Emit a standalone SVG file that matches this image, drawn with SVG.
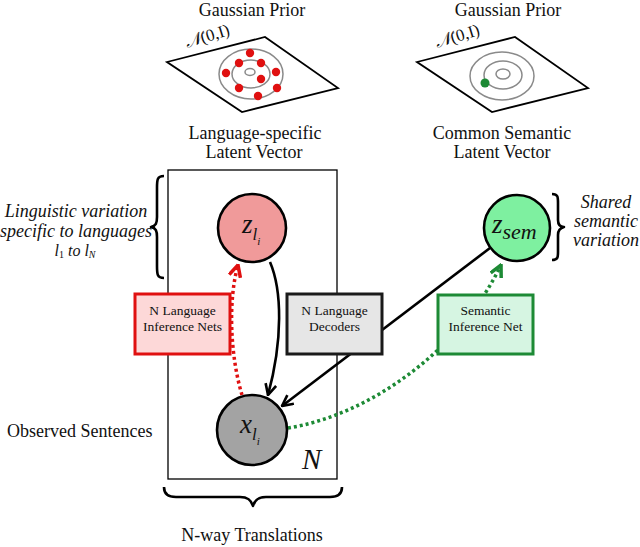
<svg xmlns="http://www.w3.org/2000/svg" width="640" height="547" viewBox="0 0 640 547" font-family="'Liberation Serif','Times New Roman',serif">
<defs>
<style>
text{font-family:"Liberation Serif","Times New Roman",serif;fill:#111;}
.t18{font-size:18px;text-anchor:middle;}
.it{font-style:italic;}
.box{font-size:13.5px;text-anchor:middle;}
.plane{fill:#fff;stroke:#000;stroke-width:1.8;}
.ell{fill:none;stroke:#8a8a8a;stroke-width:1.5;}
.brace{fill:none;stroke:#000;stroke-width:2.6;stroke-linejoin:round;}
.solid{fill:none;stroke:#000;stroke-width:2.6;}
.dotr{fill:none;stroke:#e01010;stroke-width:3.5;stroke-dasharray:3 3;}
.dotg{fill:none;stroke:#1d8a35;stroke-width:3.5;stroke-dasharray:3 3;}
.node{stroke:#000;stroke-width:2.6;}
</style>
<marker id="ak" viewBox="0 0 12 12" refX="11" refY="6" markerWidth="13" markerHeight="13" markerUnits="userSpaceOnUse" orient="auto">
<path d="M1,1 L11,6 L1,11" fill="none" stroke="#000" stroke-width="2.4"/>
</marker>
<marker id="ar" viewBox="0 0 12 12" refX="11" refY="6" markerWidth="14" markerHeight="14" markerUnits="userSpaceOnUse" orient="auto">
<path d="M1,1 L11,6 L1,11" fill="none" stroke="#e01010" stroke-width="3"/>
</marker>
<marker id="ag" viewBox="0 0 12 12" refX="11" refY="6" markerWidth="14" markerHeight="14" markerUnits="userSpaceOnUse" orient="auto">
<path d="M1,1 L11,6 L1,11" fill="none" stroke="#1d8a35" stroke-width="3"/>
</marker>
</defs>
<rect width="640" height="547" fill="#fff"/>

<g id="prior-left">
<text class="t18" x="252" y="16">Gaussian Prior</text>
<path class="plane" d="M167,62 L265,37 L338,88 L242,112 Z"/>
<ellipse class="ell" cx="251" cy="74" rx="32" ry="25"/>
<ellipse class="ell" cx="251" cy="74" rx="19" ry="14"/>
<ellipse class="ell" cx="250" cy="72" rx="5" ry="3.5"/>
<g fill="#e01010">
<circle cx="250" cy="53" r="4.2"/>
<circle cx="239" cy="63" r="4.2"/>
<circle cx="261" cy="63" r="4.2"/>
<circle cx="226" cy="73" r="4.2"/>
<circle cx="276" cy="72" r="4.2"/>
<circle cx="261" cy="79" r="4.2"/>
<circle cx="239" cy="88" r="4.2"/>
<circle cx="277" cy="88" r="4.2"/>
<circle cx="258" cy="96" r="4.2"/>
</g>
<text x="187" y="48" font-size="17" transform="rotate(-17 187 48)"><tspan class="it">𝒩</tspan>(0,I)</text>
<text class="t18" x="255" y="139">Language-specific</text>
<text class="t18" x="254" y="158">Latent Vector</text>
</g>

<g id="prior-right">
<text class="t18" x="508" y="16">Gaussian Prior</text>
<path class="plane" d="M417,62 L515,37 L588,88 L492,112 Z"/>
<ellipse class="ell" cx="502" cy="76" rx="32" ry="24"/>
<ellipse class="ell" cx="503" cy="75" rx="19" ry="14"/>
<ellipse class="ell" cx="503" cy="74" rx="7" ry="5"/>
<circle cx="485" cy="83" r="4.5" fill="#1d8a35"/>
<text x="437" y="48" font-size="17" transform="rotate(-17 437 48)"><tspan class="it">𝒩</tspan>(0,I)</text>
<text class="t18" x="502" y="139">Common Semantic</text>
<text class="t18" x="502" y="158">Latent Vector</text>
</g>

<g id="plate">
<rect x="168" y="170" width="169" height="309" fill="none" stroke="#000" stroke-width="1.3"/>
<text x="302" y="469" font-size="29" class="it">N</text>
</g>

<g id="annotations">
<path class="brace" d="M164,176 C157,176 157,180 157,188 L157,217 C157,223 156,226 151,227 C156,228 157,231 157,237 L157,266 C157,274 157,278 164,278"/>
<text class="t18 it" x="76" y="217" font-size="16.5">Linguistic variation</text>
<text class="t18 it" x="76" y="237" font-size="16.5">specific to languages</text>
<text x="75" y="256" font-size="16" text-anchor="middle" class="it">l<tspan font-size="10" dy="2" font-style="normal">1</tspan><tspan dy="-2"> to l</tspan><tspan font-size="10" dy="2">N</tspan></text>
<path class="brace" d="M552,194 C558,194 558,197 558,203 L558,220 C558,224 560,227 564,227 C560,228 558,230 558,235 L558,252 C558,257 558,260 552,260"/>
<text class="t18 it" x="606" y="208" font-size="17">Shared</text>
<text class="t18 it" x="606" y="227" font-size="17">semantic</text>
<text class="t18 it" x="606" y="246" font-size="17">variation</text>
<text x="7" y="437" font-size="18">Observed Sentences</text>
<path class="brace" d="M164,487 C164,494 168,497 176,497 L240,497 C247,497 251,499 253,506 C255,499 259,497 266,497 L330,497 C338,497 342,494 342,487"/>
<text class="t18" x="252" y="541">N-way Translations</text>
</g>

<g id="connectors">
<path class="solid" d="M270,262 C282,290 283,340 268,395" marker-end="url(#ak)"/>
<path class="solid" d="M490,248 L282,406" marker-end="url(#ak)"/>
<path class="dotr" d="M242,395 C230,355 228,300 238,265" marker-end="url(#ar)"/>
<path class="dotg" d="M288,428 C370,415 460,350 501,265" marker-end="url(#ag)"/>
</g>

<g id="lang-inference">
<rect x="135" y="294" width="95" height="60" fill="#fdd8d8" stroke="#e01010" stroke-width="3"/>
<text class="box" x="182.5" y="315">N Language</text>
<text class="box" x="182.5" y="331">Inference Nets</text>
</g>
<g id="lang-decoders">
<rect x="287" y="294" width="95" height="60" fill="#e6e6e6" stroke="#1a1a1a" stroke-width="3"/>
<text class="box" x="334.5" y="315">N Language</text>
<text class="box" x="334.5" y="331">Decoders</text>
</g>
<g id="sem-inference">
<rect x="438" y="295" width="95" height="59" fill="#d6f5e2" stroke="#1d8a35" stroke-width="3"/>
<text class="box" x="485.5" y="315">Semantic</text>
<text class="box" x="485.5" y="331">Inference Net</text>
</g>

<g id="z-lang">
<circle class="node" cx="252" cy="228" r="34" fill="#f09a9a"/>
<text x="242" y="233" font-size="27" class="it">z<tspan font-size="17" dy="7">l</tspan><tspan font-size="11" dy="5">i</tspan></text>
</g>
<g id="z-sem">
<circle class="node" cx="517" cy="228" r="33" fill="#7ef0a0"/>
<text x="492" y="233" font-size="27" class="it">z<tspan font-size="22" dy="6">sem</tspan></text>
</g>
<g id="x-lang">
<circle class="node" cx="252" cy="430" r="35" fill="#a3a3a3"/>
<text x="240" y="433" font-size="27" class="it">x<tspan font-size="17" dy="7">l</tspan><tspan font-size="11" dy="5">i</tspan></text>
</g>
</svg>
